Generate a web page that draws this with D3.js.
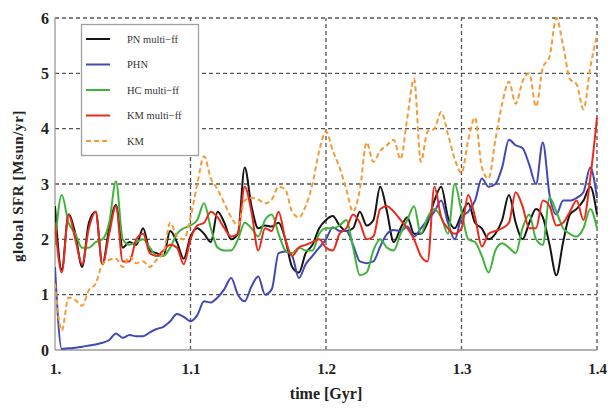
<!DOCTYPE html>
<html>
<head>
<meta charset="utf-8">
<script src="https://cdn.jsdelivr.net/npm/d3@7"></script>
<style>
  html, body { margin: 0; padding: 0; background: #fff; }
  svg { display: block; }
</style>
</head>
<body>
<svg id="chart" width="616" height="408"></svg>
<script>
// Time sampling of the runs (Gyr)
const tStart = 1.0, tStep = 0.005, nSamples = 81;
const time = d3.range(nSamples).map(i => +(tStart + i * tStep).toFixed(3));

// Global star formation rate for each model [Msun/yr]
const pnMulti = [2.6,1.45,2.45,2.1,1.5,2.3,2.5,1.55,2.2,2.62,1.85,1.95,1.9,2.2,1.8,1.75,1.7,2.15,1.95,1.65,
  2.05,2.2,2.1,1.95,2.5,2.3,2.0,2.1,3.3,2.6,2.2,2.25,2.23,2.3,2.0,1.5,1.4,1.75,1.9,2.2,
  2.35,2.42,2.25,2.15,2.2,2.5,2.25,2.35,2.95,2.5,1.95,2.2,2.4,2.1,2.1,2.3,2.7,2.95,2.4,2.2,
  2.45,2.65,2.3,2.2,2.0,2.1,2.35,2.8,2.3,2.0,2.3,2.55,2.4,1.9,1.35,1.95,2.45,2.55,2.7,2.95,2.45];
const phn = [1.5,0.02,0.03,0.04,0.06,0.08,0.1,0.13,0.18,0.3,0.22,0.27,0.25,0.25,0.32,0.38,0.42,0.52,0.65,0.6,
  0.52,0.63,0.88,0.86,0.95,1.1,1.3,1.0,0.88,1.15,1.33,1.0,1.1,1.75,1.78,1.7,1.3,1.55,1.7,1.85,
  2.0,2.22,2.15,2.15,1.9,1.6,1.57,1.6,1.87,2.1,2.17,2.15,2.23,2.05,2.2,2.35,2.5,2.7,2.3,2.0,
  2.4,2.5,2.7,3.1,2.95,3.0,3.3,3.8,3.7,3.65,3.35,3.0,3.75,2.8,2.45,2.7,2.7,2.75,2.85,3.3,2.75];
const hcMulti = [1.9,2.8,2.3,2.1,1.85,1.85,1.95,2.0,2.3,3.05,2.0,1.9,1.95,2.0,1.85,1.7,1.7,1.85,2.1,2.2,
  2.25,2.35,2.65,2.2,1.85,1.8,1.8,2.0,2.3,2.2,2.05,2.35,2.45,2.1,1.8,1.75,1.85,1.8,1.8,2.1,
  2.2,2.2,2.25,2.35,1.85,1.35,1.4,1.8,2.0,1.85,1.8,2.1,2.35,2.6,2.1,2.4,2.55,2.4,2.1,3.0,
  2.5,2.0,1.95,1.7,1.4,1.8,1.93,1.85,1.75,2.2,2.45,2.0,1.9,2.75,2.5,2.2,2.1,2.05,2.2,2.55,2.2];
const kmMulti = [2.3,1.4,2.45,2.0,1.55,2.2,2.5,1.55,2.1,2.6,1.6,1.6,2.0,2.1,1.75,1.7,1.8,1.9,1.85,1.55,
  2.0,2.25,2.3,2.5,2.4,2.2,2.05,2.1,2.95,2.5,1.8,2.2,2.15,2.5,2.0,1.7,1.85,1.9,1.95,2.0,
  1.85,1.8,2.1,2.2,2.45,2.3,2.0,2.05,2.55,2.6,2.5,2.35,2.2,2.0,1.7,1.6,2.95,2.4,2.2,2.1,
  2.2,2.8,2.4,1.87,2.1,2.15,2.2,2.3,2.85,2.6,2.2,2.2,2.7,2.6,2.25,2.3,2.5,2.7,2.35,3.1,4.2];
const km = [1.2,0.35,0.95,0.9,0.8,1.08,1.2,1.55,1.63,1.65,1.5,1.69,1.57,1.6,1.5,1.63,1.75,2.3,2.05,2.0,
  2.4,3.0,3.5,3.1,2.9,2.65,2.4,2.25,2.7,2.75,2.72,2.65,2.72,2.95,2.9,2.5,2.4,2.6,3.0,3.6,
  3.95,3.6,3.3,2.9,2.5,2.9,3.75,3.4,3.6,3.7,3.8,3.45,4.2,4.9,3.4,3.95,4.0,4.3,3.9,3.45,
  3.2,3.8,4.2,3.3,3.1,3.8,4.45,4.85,4.45,4.85,5.0,4.4,5.1,5.3,6.0,5.5,4.9,4.8,4.35,5.1,5.7];

const seriesNames = ["PN multi\u2212ff", "PHN", "HC multi\u2212ff", "KM multi\u2212ff", "KM"];
const seriesValues = [pnMulti, phn, hcMulti, kmMulti, km];
const seriesColors = ["#141414", "#4348b4", "#3fb43c", "#ec2a1c", "#f59a38"];
const seriesDash = [null, null, null, null, "5,3"];

const xTicks = [1.0, 1.1, 1.2, 1.3, 1.4];
const xTickLabels = ["1.", "1.1", "1.2", "1.3", "1.4"];
const yTicks = [0, 1, 2, 3, 4, 5, 6];

const svg = d3.select("#chart");
const margin = { left: 55, right: 19, top: 18, bottom: 58 };
const W = 616, H = 408;

const x = d3.scaleLinear().domain([1.0, 1.4]).range([margin.left, W - margin.right]);
const y = d3.scaleLinear().domain([0, 6]).range([H - margin.bottom, margin.top]);

const serif = "'Liberation Serif', 'DejaVu Serif', serif";

// dashed grid
const grid = svg.append("g");
grid.selectAll("line.gx").data(xTicks.slice(1)).join("line")
  .attr("x1", d => x(d)).attr("x2", d => x(d))
  .attr("y1", y(0)).attr("y2", y(6))
  .attr("stroke", "#555").attr("stroke-width", 1.3).attr("stroke-dasharray", "4,3");
grid.selectAll("line.gy").data(yTicks.slice(1)).join("line")
  .attr("x1", x(1.0)).attr("x2", x(1.4))
  .attr("y1", d => y(d)).attr("y2", d => y(d))
  .attr("stroke", "#555").attr("stroke-width", 1.3).attr("stroke-dasharray", "4,3");

// solid left and bottom axis lines
svg.append("line").attr("x1", x(1.0)).attr("x2", x(1.0)).attr("y1", y(0)).attr("y2", y(6))
  .attr("stroke", "#9a9a9a").attr("stroke-width", 1.3);
svg.append("line").attr("x1", x(1.0)).attr("x2", x(1.4)).attr("y1", y(0)).attr("y2", y(0))
  .attr("stroke", "#9a9a9a").attr("stroke-width", 1.3);

// axes (labels only)
const xAxis = d3.axisBottom(x).tickValues(xTicks).tickFormat((d, i) => xTickLabels[i]).tickSize(0).tickPadding(13);
const gx = svg.append("g").attr("transform", `translate(0,${y(0)})`).call(xAxis);
gx.select(".domain").remove();
gx.selectAll("text").attr("font-family", serif).attr("font-weight", "bold").attr("font-size", 15).attr("fill", "#222");

const yAxis = d3.axisLeft(y).tickValues(yTicks).tickFormat(d3.format("d")).tickSize(0).tickPadding(6);
const gy = svg.append("g").attr("transform", `translate(${x(1.0)},0)`).call(yAxis);
gy.select(".domain").remove();
gy.selectAll("text").attr("font-family", serif).attr("font-weight", "bold").attr("font-size", 16).attr("fill", "#222");

// series lines
const line = d3.line().x((d, i) => x(time[i])).y(d => y(d)).curve(d3.curveMonotoneX);
const clip = svg.append("clipPath").attr("id", "plotClip").append("rect")
  .attr("x", x(1.0)).attr("y", y(6) - 2).attr("width", x(1.4) - x(1.0) + 2).attr("height", y(0) - y(6) + 2);
const lines = svg.append("g").attr("clip-path", "url(#plotClip)");
seriesValues.forEach((vals, k) => {
  lines.append("path").datum(vals)
    .attr("d", line)
    .attr("fill", "none")
    .attr("stroke", seriesColors[k])
    .attr("stroke-width", 2)
    .attr("stroke-linejoin", "round")
    .attr("stroke-dasharray", seriesDash[k]);
});

// legend
const lg = svg.append("g");
lg.append("rect").attr("x", 81.5).attr("y", 24.5).attr("width", 117).attr("height", 131)
  .attr("fill", "#fff").attr("stroke", "#a0a0a0").attr("stroke-width", 1.3);
seriesNames.forEach((name, k) => {
  const yy = 39 + k * 25.5;
  lg.append("line").attr("x1", 86).attr("x2", 110).attr("y1", yy).attr("y2", yy)
    .attr("stroke", seriesColors[k]).attr("stroke-width", 2)
    .attr("stroke-dasharray", seriesDash[k]);
  lg.append("text").attr("x", 127).attr("y", yy + 3.5).text(name)
    .attr("font-family", serif).attr("font-size", 10.5).attr("fill", "#333");
});

// axis titles
svg.append("text").attr("x", x(1.2)).attr("y", 399).attr("text-anchor", "middle")
  .attr("font-family", serif).attr("font-weight", "bold").attr("font-size", 16).attr("fill", "#222")
  .text("time [Gyr]");
svg.append("text").attr("transform", `translate(23,${(y(0) + y(6)) / 2 + 2}) rotate(-90)`)
  .attr("text-anchor", "middle")
  .attr("font-family", serif).attr("font-weight", "bold").attr("font-size", 15).attr("fill", "#222")
  .attr("letter-spacing", 0.6)
  .text("global SFR [Msun/yr]");
</script>
</body>
</html>
